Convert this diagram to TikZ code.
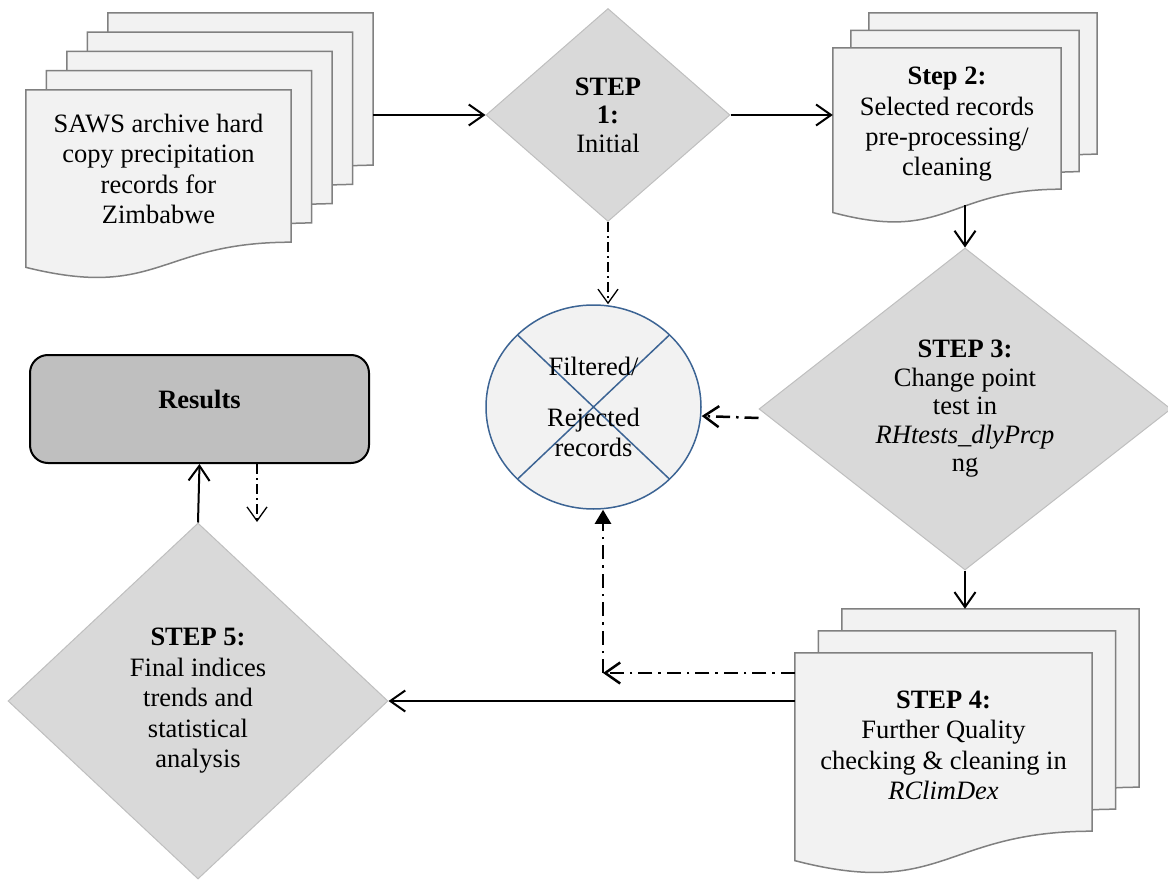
\documentclass[tikz,border=0pt]{standalone}
\usepackage{fontspec}
\setmainfont{Liberation Serif}
\usetikzlibrary{shapes.geometric,arrows.meta,backgrounds,calc}

\definecolor{sheetFill}{HTML}{F2F2F2}
\definecolor{sheetEdge}{HTML}{808080}
\definecolor{stepFill}{HTML}{D9D9D9}
\definecolor{stepEdge}{HTML}{BFBFBF}
\definecolor{resultFill}{HTML}{BFBFBF}
\definecolor{rejectEdge}{HTML}{3C6494}

% page with a wavy foot, drawn round a node
\newcommand\docwave[1]{%
  \path[sheetDecorate] let \p1=(#1.north west), \p2=(#1.south east) in
    (\p1) -- (\x2,\y1) -- (\p2)
    .. controls ({(\x1+\x2)/2},\y2) and ({(\x1+\x2)/2},{\y2+0.381*(\y2-(\y1))}) ..
    (\x1,{\y2+0.165*(\y2-(\y1))}) -- cycle;}

\begin{document}
\begin{tikzpicture}
[x=1pt,y=-1pt,
  font=\fontsize{26.5}{30.5}\selectfont,
  sheetDecorate/.style={fill=sheetFill,draw=sheetEdge,line width=1.5pt},
  nodeSheet/.style={inner sep=0pt,align=center},
  textSheet/.style={nodeSheet,text height=121pt,text depth=6pt},
  stepDecorate/.style={shape=diamond,fill=stepFill,draw=stepEdge,line width=1pt,inner sep=0pt,align=center},
  tightText/.style={font=\fontsize{26.5}{28.5}\selectfont},
  lineDecorate/.style={line width=2pt,-{Straight Barb[length=15pt,width=21pt]}},
  dashDecorate/.style={line width=2.5pt,dash pattern=on 14pt off 6pt on 2.5pt off 6pt,-{Straight Barb[length=15pt,width=21pt]}},
  thinDashDecorate/.style={line width=1.3pt,dash pattern=on 10pt off 4pt on 2pt off 4pt,-{Straight Barb[length=14pt,width=20pt]}}]
\useasboundingbox (0,0) rectangle (1168,880);
%% pages behind the front pages
\foreach \nodename/\x/\y/\w/\h in {
  archive4/240.5/89/265/152,
  archive3/220/108.25/265/152,
  archive2/199.5/127.5/265/152,
  archive1/179/146.75/265/152,
  step2b/983/83.5/228/141,
  step2a/965/101/228/141,
  step4b/990.5/698/297/178,
  step4a/967/720/297/178}
{
  \node (\nodename) at (\x,\y) [nodeSheet,minimum width=\w pt,minimum height=\h pt] {};
}
%% front pages
\node (archive) at (158.5,166) [textSheet,minimum width=265pt,minimum height=152pt]
  {SAWS archive hard\\copy precipitation\\records for\\Zimbabwe};
\node (step2) at (947,118.5) [textSheet,minimum width=228pt,minimum height=141pt]
  {\textbf{Step 2:}\\Selected records\\pre-processing/\\cleaning};
\node (step4) at (943.5,742) [textSheet,minimum width=297pt,minimum height=178pt]
  {\textbf{STEP 4:}\\Further Quality\\checking \& cleaning in\\\textit{RClimDex}};
\begin{pgfonlayer}{background}
\foreach \nodename in {archive4,archive3,archive2,archive1,archive,step2b,step2a,step2,step4b,step4a,step4}
  {\docwave{\nodename}}
\end{pgfonlayer}
%% decisions
\node (step1) at (608,115) [stepDecorate,tightText,minimum width=244pt,minimum height=213pt]
  {\textbf{STEP}\\\textbf{1:}\\Initial};
\node (step3) at (965,409) [stepDecorate,tightText,minimum width=412pt,minimum height=322pt]
  {\textbf{STEP 3:}\\Change point\\test in\\\textit{RHtests\_dlyPrcp}\\ng};
\node (step5) at (198,701) [stepDecorate,minimum width=380pt,minimum height=356pt]
  {\textbf{STEP 5:}\\Final indices\\trends and\\statistical\\analysis};
%% rejected records and results
\node (rejected) at (593.5,407) [shape=ellipse,minimum width=215pt,minimum height=204pt,inner sep=0pt,
  fill=sheetFill,draw=rejectEdge,line width=1.5pt,align=center,
  path picture={\draw[rejectEdge,line width=1.5pt]
    (path picture bounding box.north west) -- (path picture bounding box.south east)
    (path picture bounding box.north east) -- (path picture bounding box.south west);}]
  {Filtered/\\[20pt]Rejected\\records};
\node (results) at (199.5,409) [draw=black,line width=2pt,fill=resultFill,rounded corners=18pt,
  minimum width=339pt,minimum height=108pt,text depth=19pt] {\textbf{Results}};
\coordinate (resultsout) at (257,522);
\coordinate (corner) at (603,673);
\coordinate (step2foot) at ($(step2.south)+(0,16)$);
%% edges or lines
\draw[lineDecorate] (archive4.east |- step1.west) -- (step1.west);
\draw[lineDecorate] (step1.east) -- (step1.east -| step2.west);
\draw[lineDecorate] (step2foot -| step3.north) -- (step3.north);
\draw[lineDecorate] (step3.south) -- (step3.south |- step4b.north);
\draw[lineDecorate] (step5.east -| step4.west) -- (step5.east);
\draw[lineDecorate] (step5.north) -- (results.south);
\draw[thinDashDecorate] (step1.south) -- (step1.south |- rejected.north);
\draw[dashDecorate] ($(step3.west)+(0,9)$) -- ($(rejected.east)+(0,9)$);
\draw[dashDecorate] (step4.west |- corner) -- (corner);
\draw[dashDecorate,-{Triangle[length=14pt,width=16pt]}] (corner) -- (corner |- rejected.south);
\draw[thinDashDecorate] (results.south -| resultsout) -- (resultsout);
\end{tikzpicture}
\end{document}
